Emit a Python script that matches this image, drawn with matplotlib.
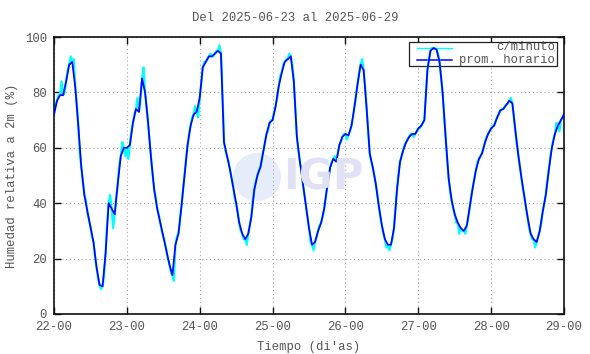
import numpy as np
import matplotlib
matplotlib.use("Agg")
import matplotlib.pyplot as plt
from matplotlib.patches import Circle, Rectangle

# ---------------- data ----------------
title = "Del 2025-06-23 al 2025-06-29"
xlabel = "Tiempo (di'as)"
ylabel = "Humedad relativa a 2m (%)"
tick_labels = ["22-00", "23-00", "24-00", "25-00", "26-00", "27-00", "28-00", "29-00"]
yticks = [0, 20, 40, 60, 80, 100]

# hourly mean (prom. horario), from 22-00 hour 0 to 29-00
hourly = [
    # day 22
    72, 77, 79, 79, 84, 90, 91, 82, 68, 53, 43, 37, 31.5, 26, 17, 10.5, 10, 22, 40, 38, 36, 47, 57, 60,
    # day 23
    60, 61, 69, 74, 73, 85, 80, 69, 56, 45, 38, 33, 28, 23, 18, 14, 25, 29, 39, 50, 61, 68, 72, 73,
    # day 24
    78, 89, 91, 93, 93, 94, 95, 94, 62, 57, 52, 46, 40, 33, 29, 27, 29, 35, 45, 50, 53, 59, 65, 69,
    # day 25
    70, 75, 82, 87, 91, 92, 93, 84, 64, 55, 47, 39, 31, 25, 26, 30, 33, 38, 46, 53, 56, 55, 61, 64,
    # day 26
    65, 64.5, 68, 75, 83, 90, 88, 74, 58, 53, 47, 39, 32, 27, 25, 25, 31, 45, 55, 59, 62, 64, 65, 65,
    # day 27
    67, 68, 70, 88, 95, 96, 95.5, 91, 80, 64, 49, 41, 36, 33, 31, 30, 32, 39, 46, 52, 56, 58, 62, 65,
    # day 28
    67, 68, 71, 73.5, 74, 75.5, 77, 76, 66, 57, 49, 42, 35, 29, 27, 26, 30, 37, 43, 52, 60, 65, 68, 70,
    # 29-00
    72,
]

# per-minute series, read at the half hours (hh:30)
minute_half = [
    # day 22
    76, 79, 84, 80, 88, 93, 92, 76, 58, 48, 41, 34, 28, 21, 13, 9, 14, 33, 43, 31, 42, 54, 62, 57,
    # day 23
    56, 66, 72, 78, 77, 89, 75, 62, 50, 42, 36, 30, 26, 20, 15, 12, 28, 34, 45, 56, 65, 71, 75, 71,
    # day 24
    83, 91, 92, 94, 93, 95, 97, 80, 59, 55, 49, 42, 37, 30, 27, 25, 32, 41, 48, 52, 56, 62, 66, 70,
    # day 25
    73, 78, 86, 90, 92, 94, 90, 74, 59, 52, 43, 35, 26, 23, 28, 32, 35, 42, 50, 55, 57, 58, 62, 65,
    # day 26
    63, 66, 71, 79, 87, 92, 82, 66, 55, 50, 43, 35, 29, 24, 23, 27, 38, 51, 57, 61, 63, 65, 64, 66,
    # day 27
    67, 69, 79, 92, 96, 96, 94, 86, 72, 56, 44, 38, 33, 29, 30, 29, 35, 43, 49, 55, 57, 60, 64, 66,
    # day 28
    68, 70, 72, 74, 75, 76, 78, 71, 61, 53, 45, 38, 31, 27, 24, 28, 33, 40, 48, 57, 63, 69, 66, 71,
]

# ---------------- build series ----------------
hours = np.arange(len(hourly), dtype=float)
half_hours = np.arange(len(minute_half), dtype=float) + 0.5
min_t = np.empty(len(hourly) + len(minute_half))
min_v = np.empty_like(min_t)
min_t[0::2] = hours
min_v[0::2] = hourly
min_t[1::2] = half_hours
min_v[1::2] = minute_half

# ---------------- figure ----------------
FONT = "Liberation Mono"
TXT = "#555555"
FS = 8.8

fig = plt.figure(figsize=(5.9, 3.54), dpi=100)
ax = fig.add_axes([54 / 590, 40 / 354, 510 / 590, 277 / 354])

# watermark
wm = "#e0e1f4"
ax.add_patch(Circle((257, 177), 24, transform=None, facecolor="#e6ecfa",
                    edgecolor="none", zorder=0.4))
fig.text(323 / 590, 1 - 178 / 354, "IGP", fontsize=30, fontweight="bold",
         family="DejaVu Sans", color=wm, ha="center", va="center", zorder=0.4)

ax.plot(min_t, min_v, color="#00ffff", lw=1.6, zorder=2)
ax.plot(hours, hourly, color="#0000ff", lw=1.25, zorder=3)

ax.set_xlim(0, 168)
ax.set_ylim(0, 100)
ax.set_xticks(np.arange(0, 169, 24))
ax.set_xticklabels(tick_labels)
ax.set_yticks(yticks)
ax.set_yticklabels([str(v) for v in yticks])

ax.grid(True, color="#a8a8a8", linestyle=(0, (1.0, 2.5)), linewidth=0.8)
ax.tick_params(direction="in", length=5, width=1.0, top=True, right=True,
               colors="#111111", labelcolor=TXT, labelsize=FS, pad=5)
for lab in ax.get_xticklabels() + ax.get_yticklabels():
    lab.set_family(FONT)
for s in ax.spines.values():
    s.set_linewidth(1.2)
    s.set_color("#111111")

ax.set_xlabel(xlabel, family=FONT, fontsize=FS, color=TXT, labelpad=6)
ax.set_ylabel(ylabel, family=FONT, fontsize=FS, color=TXT)
ax.yaxis.set_label_coords(-(54 - 18) / 510, 0.5)
fig.text(0.5, 1 - 18 / 354, title, family=FONT, fontsize=FS, color=TXT,
         ha="center", va="center")

# legend (gnuplot style: sample left, text right-aligned); curves pass over it
def fx(px):
    return px / 590
def fy(py):
    return 1 - py / 354

ax.add_patch(Rectangle((fx(409), fy(66)), fx(557) - fx(409), fy(42) - fy(66),
                       transform=fig.transFigure, facecolor="white",
                       edgecolor="#222222", linewidth=0.9, zorder=1.8, clip_on=False))
ax.add_line(plt.Line2D([fx(417), fx(452)], [fy(47.5), fy(47.5)],
                       transform=fig.transFigure, color="#00ffff", lw=1.0, zorder=1.9))
ax.add_line(plt.Line2D([fx(417), fx(452)], [fy(60), fy(60)],
                       transform=fig.transFigure, color="#0000ff", lw=1.1, zorder=1.9))
fig.text(fx(555), fy(47.5), "c/minuto", family=FONT, fontsize=FS, color=TXT,
         ha="right", va="center", zorder=6)
fig.text(fx(555), fy(60), "prom. horario", family=FONT, fontsize=FS, color=TXT,
         ha="right", va="center", zorder=6)

fig.savefig("out.png", dpi=100)
